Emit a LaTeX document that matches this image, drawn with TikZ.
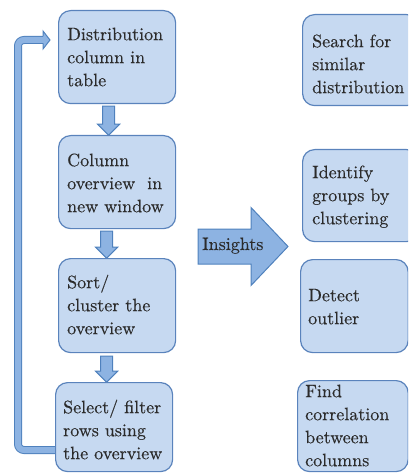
\documentclass[tikz,border=0pt]{standalone}
\usepackage{fontspec}
\newfontfamily\boxfont{lmroman10-regular.otf}[FakeBold=0.35]
\usetikzlibrary{calc,backgrounds}
\definecolor{boxfill}{HTML}{C6D9F1}
\definecolor{boxline}{HTML}{5A83BC}
\definecolor{arrfill}{HTML}{8DB3E2}
\definecolor{arrline}{HTML}{4F81BD}
\definecolor{txtcol}{HTML}{2B2B2B}
\begin{document}
\begin{tikzpicture}[x=1pt,y=-1pt,
  box/.style={draw=boxline, fill=boxfill, line width=1.2pt, rounded corners=12pt, inner sep=0pt, anchor=north west},
  txt/.style={anchor=north west, inner sep=0pt, align=left, text=txtcol, font=\boxfont\fontsize{18}{23}\selectfont},
  barrow/.style={draw=arrline, fill=arrfill, line width=1pt, line join=miter},
  fb/.style={draw=arrline, double=arrfill, double distance=6pt, line width=1pt, rounded corners=6pt}]
\useasboundingbox (0,0) rectangle (408,473);
\clip (0,0) rectangle (408,473);

% left column
\node[box, minimum width=117pt, minimum height=93pt] (b1) at (58,10) {};
\node[txt] (b1t) at ($(b1.north west)+(9,13.9)$) {\strut Distribution\\column in\\table};
\node[box, minimum width=117pt, minimum height=93pt] (b2) at (58,135) {};
\node[txt] (b2t) at ($(b2.north west)+(9,14.9)$) {\strut Column\\overview~ in\\new window};
\node[box, minimum width=117pt, minimum height=94pt] (b3) at (58,258) {};
\node[txt] (b3t) at ($(b3.north west)+(9,13.9)$) {\strut Sort/\\cluster the\\overview};
\node[box, minimum width=117pt, minimum height=89pt] (b4) at (55,382) {};
\node[txt] (b4t) at ($(b4.north west)+(8,14.9)$) {\strut Select/ filter\\rows using\\the overview};

% right column
\node[box, minimum width=116pt, minimum height=91pt] (r1) at (302,14) {};
\node[txt] (r1t) at ($(r1.north west)+(10,16.9)$) {\strut Search for\\similar\\distribution};
\node[box, minimum width=116pt, minimum height=92pt] (r2) at (302,149) {};
\node[txt] (r2t) at ($(r2.north west)+(10,12.9)$) {\strut Identify\\groups by\\clustering};
\node[box, minimum width=107.5pt, minimum height=93pt] (r3) at (300,259) {};
\node[txt] (r3t) at ($(r3.north west)+(8,25.9)$) {\strut Detect\\outlier};
\node[box, minimum width=110.5pt, minimum height=91pt] (r4) at (297,380) {};
\node[txt] (r4t) at ($(r4.north west)+(8,0.9)$) {\strut Find\\correlation\\between\\columns};

% insights block arrow
\draw[barrow] (198,229) -- (251,229) -- (251,207.5) -- (288,246.5) -- (251,285.5) -- (251,264) -- (198,264) -- cycle;
\node[anchor=base west, inner sep=0pt, text=txtcol, font=\boxfont\fontsize{18}{23}\selectfont] (insights) at (202,250) {Insights};

\begin{pgfonlayer}{background}
% down arrows
\draw[barrow] ($(b1.south)+(-8.5,2)$) ++(-6,0) -- ++(12,0) -- ++(0,18) -- ++(5,0) -- ++(-11,11) -- ++(-11,-11) -- ++(5,0) -- cycle;
\draw[barrow] ($(b2.south)+(-10.5,2)$) ++(-6,0) -- ++(12,0) -- ++(0,16) -- ++(5,0) -- ++(-11,11) -- ++(-11,-11) -- ++(5,0) -- cycle;
\draw[barrow] ($(b3.south)+(-10.5,3)$) ++(-6,0) -- ++(12,0) -- ++(0,15) -- ++(5,0) -- ++(-11,11) -- ++(-11,-11) -- ++(5,0) -- cycle;
% feedback arrow
\coordinate (fbtip) at ($(b1.west |- 0,40)+(-8,0)$);
\draw[fb] (b4.west |- 0,450) -- (18,450) -- (18,40) -- ($(fbtip)+(-6.5,0)$);
\fill[arrfill] ($(fbtip)+(-7,-9)$) -- (fbtip) -- ($(fbtip)+(-7,9)$) -- cycle;
\draw[arrline, line width=1pt, line join=miter] ($(fbtip)+(-7,-3.5)$) -- ++(0,-5.5) -- (fbtip) -- ($(fbtip)+(-7,9)$) -- ++(0,-5.5);
\end{pgfonlayer}
\end{tikzpicture}
\end{document}
